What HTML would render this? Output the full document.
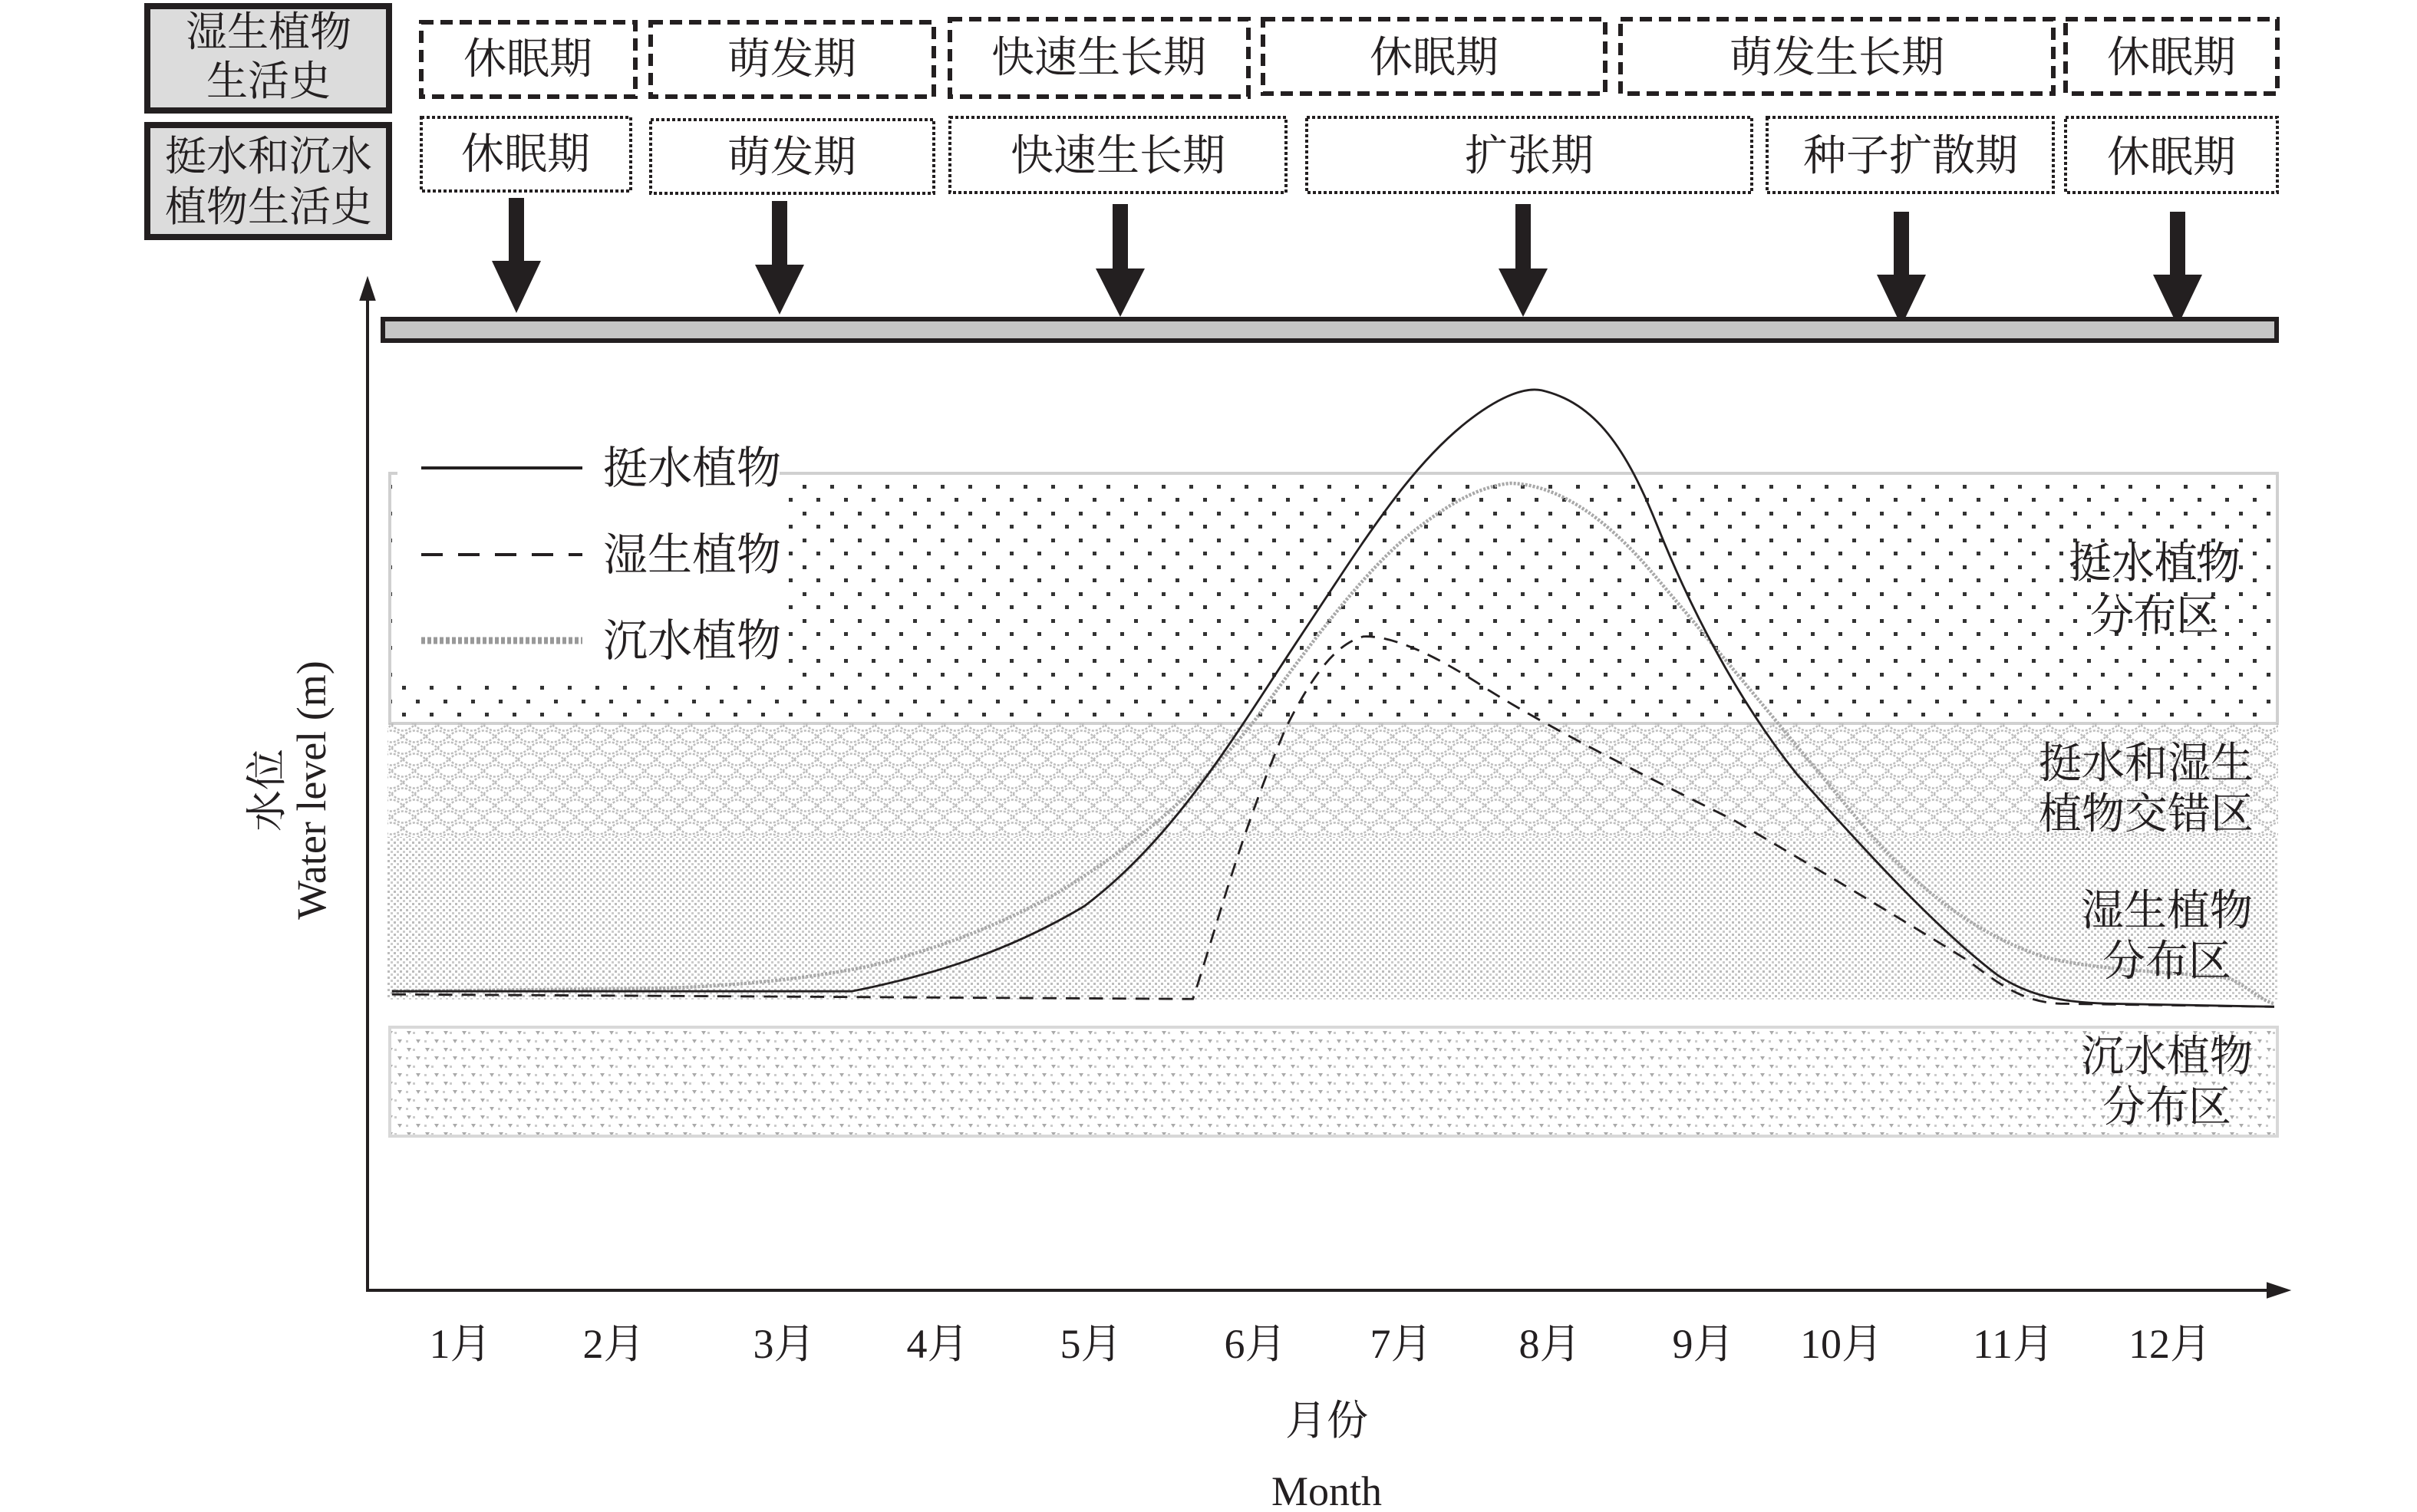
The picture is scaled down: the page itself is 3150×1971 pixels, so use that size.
<!DOCTYPE html>
<html><head><meta charset="utf-8"><style>
html,body{margin:0;padding:0;background:#fff;}
svg{display:block;}
text{font-family:"Liberation Serif","Noto Serif CJK SC","Noto Sans CJK SC",serif;fill:#231f20;}
</style></head><body>
<svg width="3150" height="1971" viewBox="0 0 3150 1971" xmlns="http://www.w3.org/2000/svg">
<defs>
<pattern id="dots" width="36" height="35" patternUnits="userSpaceOnUse">
<rect x="2" y="2" width="5" height="5" fill="#333"/>
<rect x="20" y="19" width="5" height="5" fill="#333"/>
</pattern>
<pattern id="scallop" width="30" height="30" patternUnits="userSpaceOnUse">
<path d="M0 15 Q15 0 30 15 M0 15 Q15 30 30 15 M-15 0 Q0 15 15 0 M15 0 Q30 15 45 0 M-15 30 Q0 15 15 30 M15 30 Q30 15 45 30" fill="none" stroke="#bdbdbd" stroke-width="2.5" stroke-dasharray="3 2"/>
</pattern>
<pattern id="fine" width="8" height="8" patternUnits="userSpaceOnUse">
<rect x="1" y="1" width="3" height="3" fill="#bcbcbc"/>
<rect x="5" y="5" width="3" height="3" fill="#cccccc"/>
</pattern>
<pattern id="tri" width="24" height="22" patternUnits="userSpaceOnUse">
<path d="M2 2 l6 0 l-3 5z M14 13 l6 0 l-3 5z" fill="#aaa"/>
<rect x="10" y="3" width="3" height="3" fill="#ccc"/>
<rect x="1" y="14" width="3" height="3" fill="#ccc"/>
</pattern>
</defs>

<!-- left label boxes -->
<rect x="192" y="8" width="315" height="136" fill="#dcdcdc" stroke="#231f20" stroke-width="8"/>
<text x="350" y="60" font-size="54" text-anchor="middle">湿生植物</text>
<text x="350" y="124" font-size="54" text-anchor="middle">生活史</text>
<rect x="192" y="163" width="315" height="146" fill="#dcdcdc" stroke="#231f20" stroke-width="8"/>
<text x="350" y="222" font-size="54" text-anchor="middle">挺水和沉水</text>
<text x="350" y="288" font-size="54" text-anchor="middle">植物生活史</text>

<!-- top row dashed boxes -->
<g fill="none" stroke="#231f20" stroke-width="6" stroke-dasharray="16 9">
<rect x="549" y="29" width="279" height="97"/>
<rect x="848" y="29" width="369" height="97"/>
<rect x="1238" y="25" width="389" height="101"/>
<rect x="1646" y="25" width="446" height="97"/>
<rect x="2112" y="25" width="564" height="97"/>
<rect x="2692" y="25" width="276" height="97"/>
</g>
<g font-size="56" text-anchor="middle">
<text x="688" y="96">休眠期</text>
<text x="1032" y="96">萌发期</text>
<text x="1432" y="94">快速生长期</text>
<text x="1869" y="94">休眠期</text>
<text x="2394" y="94">萌发生长期</text>
<text x="2830" y="94">休眠期</text>
</g>
<!-- second row dotted boxes -->
<g fill="none" stroke="#231f20" stroke-width="4" stroke-dasharray="4 3">
<rect x="549" y="153" width="273" height="96"/>
<rect x="848" y="156" width="369" height="96"/>
<rect x="1238" y="153" width="438" height="98"/>
<rect x="1703" y="153" width="580" height="98"/>
<rect x="2303" y="153" width="373" height="98"/>
<rect x="2692" y="153" width="276" height="98"/>
</g>
<g font-size="56" text-anchor="middle">
<text x="685" y="220">休眠期</text>
<text x="1032" y="224">萌发期</text>
<text x="1457" y="222">快速生长期</text>
<text x="1993" y="222">扩张期</text>
<text x="2490" y="222">种子扩散期</text>
<text x="2830" y="224">休眠期</text>
</g>

<!-- arrows -->
<g fill="#231f20">
<g transform="translate(673,0)"><rect x="-10" y="258" width="20" height="85"/><path d="M-32 340 L32 340 L0 408Z"/></g>
<g transform="translate(1016,0)"><rect x="-10" y="262" width="20" height="85"/><path d="M-32 345 L32 345 L0 410Z"/></g>
<g transform="translate(1460,0)"><rect x="-10" y="266" width="20" height="85"/><path d="M-32 350 L32 350 L0 413Z"/></g>
<g transform="translate(1985,0)"><rect x="-10" y="266" width="20" height="85"/><path d="M-32 350 L32 350 L0 413Z"/></g>
<g transform="translate(2478,0)"><rect x="-10" y="276" width="20" height="85"/><path d="M-32 358 L32 358 L0 425Z"/></g>
<g transform="translate(2838,0)"><rect x="-10" y="276" width="20" height="85"/><path d="M-32 358 L32 358 L0 425Z"/></g>
</g>
<rect x="499" y="416" width="2468" height="28" fill="#c6c6c6" stroke="#231f20" stroke-width="6"/>

<!-- zones -->
<rect x="508" y="617" width="2460" height="326" fill="url(#dots)" stroke="#d0d0d0" stroke-width="4"/>
<rect x="505" y="943" width="2464" height="148" fill="url(#scallop)"/>
<rect x="505" y="1091" width="2464" height="212" fill="url(#fine)"/>
<rect x="508" y="1339" width="2460" height="142" fill="url(#tri)" stroke="#d8d8d8" stroke-width="4"/>
<!-- legend white box -->
<rect x="518" y="590" width="498" height="295" fill="#fff"/>

<!-- axes -->
<g stroke="#231f20" stroke-width="4" fill="#231f20">
<line x1="479" y1="1684" x2="479" y2="380"/>
<path d="M479 366 L471 390 L487 390Z"/>
<line x1="477" y1="1682" x2="2965" y2="1682"/>
<path d="M2980 1682 L2956 1674 L2956 1690Z"/>
</g>

<!-- curves -->
<g fill="none" transform="scale(2.019)">
<path d="M253 640 L430 638 C480 636 520 632 560 624 C600 614 640 600 680 578 C730 548 770 515 810 465 C850 410 880 370 910 345 C935 325 955 314 975 312 C1005 313 1035 333 1065 368 C1105 415 1150 470 1200 530 C1240 578 1280 605 1320 618 C1360 628 1420 628 1440 632 C1455 640 1460 646 1468 648" stroke="#a8a8a8" stroke-width="2.2" stroke-dasharray="1.5 1"/>
<path d="M253 640 L550 640 C600 630 650 615 700 585 C760 540 800 470 840 410 C880 350 910 300 950 270 C970 255 985 250 995 252 C1030 260 1050 290 1070 340 C1090 390 1120 450 1160 500 C1200 545 1250 600 1290 630 C1310 643 1330 647 1360 648 L1468 650" stroke="#231f20" stroke-width="1.4"/>
<path d="M253 642 L770 645 C785 600 800 540 830 470 C850 430 865 415 880 411 C900 410 930 425 960 445 C1000 470 1060 500 1120 530 C1180 565 1230 595 1270 620 C1290 635 1305 647 1330 648 L1468 650" stroke="#231f20" stroke-width="1.4" stroke-dasharray="9 6"/>
</g>

<!-- legend -->
<line x1="549" y1="610" x2="759" y2="610" stroke="#231f20" stroke-width="4"/>
<line x1="549" y1="723" x2="759" y2="723" stroke="#231f20" stroke-width="4" stroke-dasharray="28 20"/>
<line x1="549" y1="835" x2="759" y2="835" stroke="#999" stroke-width="9" stroke-dasharray="5 3"/>
<g font-size="58">
<text x="786" y="630">挺水植物</text>
<text x="786" y="743">湿生植物</text>
<text x="786" y="855">沉水植物</text>
</g>

<!-- zone labels -->
<g font-size="56" text-anchor="middle">
<text x="2808" y="753">挺水植物</text>
<text x="2808" y="822">分布区</text>
<text x="2797" y="1014">挺水和湿生</text>
<text x="2797" y="1080">植物交错区</text>
<text x="2824" y="1206">湿生植物</text>
<text x="2824" y="1272">分布区</text>
<text x="2824" y="1396">沉水植物</text>
<text x="2824" y="1462">分布区</text>
</g>

<!-- month labels -->
<g font-size="54" text-anchor="middle">
<text x="600" y="1770">1月</text>
<text x="800" y="1770">2月</text>
<text x="1022" y="1770">3月</text>
<text x="1222" y="1770">4月</text>
<text x="1422" y="1770">5月</text>
<text x="1636" y="1770">6月</text>
<text x="1826" y="1770">7月</text>
<text x="2020" y="1770">8月</text>
<text x="2220" y="1770">9月</text>
<text x="2400" y="1770">10月</text>
<text x="2624" y="1770">11月</text>
<text x="2828" y="1770">12月</text>
<text x="1729" y="1870">月份</text>
<text x="1729" y="1962">Month</text>
</g>
<g transform="translate(384,1030) rotate(-90)" font-size="54" text-anchor="middle">
<text x="0" y="-18">水位</text>
<text x="0" y="40">Water level (m)</text>
</g>
</svg>
</body></html>
